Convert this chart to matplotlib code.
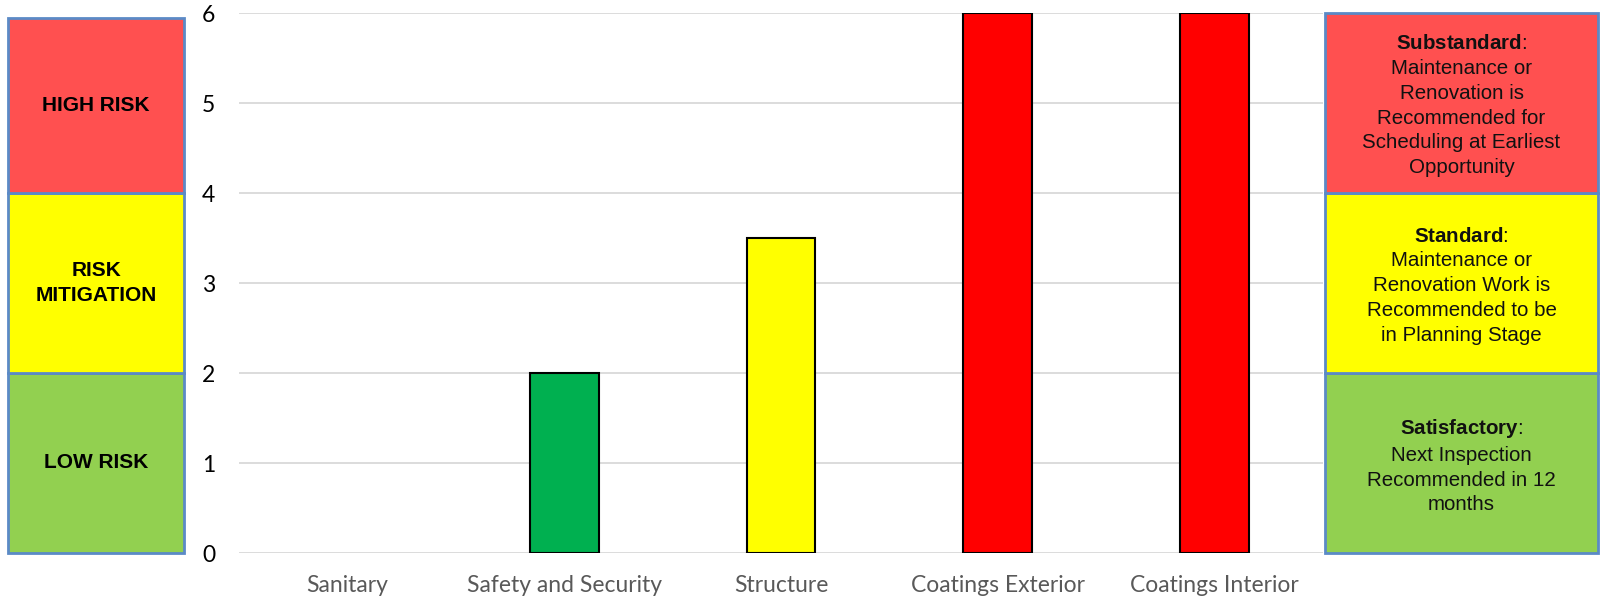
import matplotlib
matplotlib.use("Agg")
import matplotlib.pyplot as plt
from matplotlib.patches import Rectangle
from matplotlib import transforms

# ---------------- data ----------------
categories = ["Sanitary", "Safety and Security", "Structure",
              "Coatings Exterior", "Coatings Interior"]
scores = [0, 2, 3.5, 6, 6]
yticks = [0, 1, 2, 3, 4, 5, 6]

zone_bounds = [0, 2, 4, 6]
zone_fill = ["#92D050", "#FFFF00", "#FF5050"]
zone_bar_colors = ["#00B050", "#FFFF00", "#FF0000"]
risk_labels = ["LOW RISK", "RISK\nMITIGATION", "HIGH RISK"]
status_heads = ["Satisfactory", "Standard", "Substandard"]
status_bodies = [
    "Next Inspection\nRecommended in 12\nmonths",
    "Maintenance or\nRenovation Work is\nRecommended to be\nin Planning Stage",
    "Maintenance or\nRenovation is\nRecommended for\nScheduling at Earliest\nOpportunity",
]

# ---------------- style ----------------
plt.rcParams["mathtext.fontset"] = "custom"
plt.rcParams["mathtext.rm"] = "Liberation Sans"
plt.rcParams["mathtext.bf"] = "Liberation Sans:bold"
plt.rcParams["mathtext.it"] = "Liberation Sans:italic"

W, H = 1600, 599
fig = plt.figure(figsize=(W / 100, H / 100), dpi=100)
ax = fig.add_axes([239 / W, (H - 553) / H, (1323 - 239) / W, (553 - 13) / H])

x = list(range(len(categories)))


def zone_index(v):
    for i in range(len(zone_bounds) - 1):
        if v <= zone_bounds[i + 1]:
            return i
    return len(zone_bounds) - 2


bar_cols = [zone_bar_colors[zone_index(v)] for v in scores]
bars = ax.bar(x, scores, width=0.318, color=bar_cols, edgecolor="black",
              linewidth=1.5, zorder=3)
for b, v in zip(bars, scores):
    if v == 0:
        b.set_edgecolor("none")

ax.set_xlim(-0.5, len(categories) - 0.5)
ax.set_ylim(0, 6)
ax.set_yticks(yticks)
ax.set_xticks(x)
ax.set_xticklabels(categories, fontfamily="Lato", fontsize=16.5, color="#595959")
ax.set_yticklabels([str(t) for t in yticks], fontfamily="Lato", fontsize=16.5,
                   color="black")
ax.tick_params(axis="y", length=0, pad=17)
ax.tick_params(axis="x", length=0, pad=16)
for s in ax.spines.values():
    s.set_visible(False)
ax.yaxis.grid(True, color="#D9D9D9", linewidth=1.3)
ax.set_axisbelow(True)

# ---------------- side boxes ----------------
trans = transforms.blended_transform_factory(fig.transFigure, ax.transData)
edge = "#5B8AC6"

left_x0, left_x1 = 8 / W, 184 / W
right_x0, right_x1 = 1325 / W, 1598 / W
left_top = 5.94

for i in range(len(zone_bounds) - 1):
    y0 = zone_bounds[i]
    y1 = zone_bounds[i + 1]
    ly1 = min(y1, left_top)
    # left box
    ax.add_patch(Rectangle((left_x0, y0), left_x1 - left_x0, ly1 - y0,
                           transform=trans, facecolor=zone_fill[i],
                           edgecolor=edge, linewidth=2, clip_on=False,
                           zorder=5))
    ax.text((left_x0 + left_x1) / 2, (y0 + ly1) / 2, risk_labels[i],
            transform=trans, ha="center", va="center",
            fontfamily="Liberation Sans", fontweight="bold", fontsize=15,
            color="black", linespacing=1.35, zorder=6, clip_on=False)
    # right box
    ax.add_patch(Rectangle((right_x0, y0), right_x1 - right_x0, y1 - y0,
                           transform=trans, facecolor=zone_fill[i],
                           edgecolor=edge, linewidth=2, clip_on=False,
                           zorder=5))
    txt = "$\\mathbf{" + status_heads[i] + "}$:\n" + status_bodies[i]
    ax.text((right_x0 + right_x1) / 2, (y0 + y1) / 2 - 0.03, txt,
            transform=trans, ha="center", va="center",
            multialignment="center",
            fontfamily="Liberation Sans", fontsize=14.8,
            color="#111111", linespacing=1.38, zorder=6, clip_on=False)

fig.savefig("out.png", dpi=100)
